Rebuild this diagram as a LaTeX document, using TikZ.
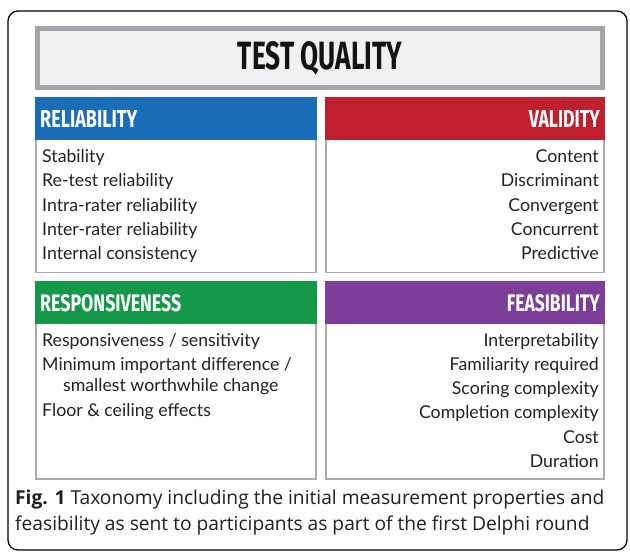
\documentclass[tikz,border=0pt]{standalone}
\usepackage{fontspec}
\usepackage{graphicx}
\setmainfont{Lato}
\newfontfamily\headfont{Fira Sans}
\newfontfamily\capfont{Open Sans}
\definecolor{relblue}{RGB}{26,110,184}
\definecolor{valred}{RGB}{192,31,46}
\definecolor{resgreen}{RGB}{22,152,74}
\definecolor{feapurple}{RGB}{124,62,152}
\definecolor{boxgray}{RGB}{170,170,172}
\definecolor{titlegray}{RGB}{165,165,167}
\definecolor{titlefill}{RGB}{241,241,243}
\definecolor{itemtext}{RGB}{34,34,34}
\tikzset{
  bodybox/.style={draw=boxgray, line width=1.6pt, fill=white},
  item/.style={inner sep=0pt, text=itemtext, font=\fontsize{17.7}{21}\selectfont},
  itemL/.style={item, anchor=base west},
  itemR/.style={item, anchor=base east},
  hdrtext/.style={inner sep=0pt, text=white},
  captext/.style={inner sep=0pt, anchor=base west, text=black!88, font=\capfont\fontsize{19.2}{26}\selectfont}
}
\newcommand{\hdr}[3]{\resizebox{#1pt}{#2pt}{\headfont\bfseries #3}}
\begin{document}
\begin{tikzpicture}[x=1pt,y=-1pt]
\useasboundingbox (0,0) rectangle (630,554);
% outer frame
\draw[line width=1.3pt, rounded corners=10pt] (8,11) rectangle (627,550);
% title
\draw[line width=5pt, draw=titlegray, fill=titlefill] (37.5,28.5) rectangle (602.5,87.5);
\node[inner sep=0pt, anchor=base, text=black!92] (title) at (320,70) {\hdr{164}{28}{TEST QUALITY}};
% bodies
\draw[bodybox] (35.8,139) rectangle (316.2,272.5);
\draw[bodybox] (325.8,139) rectangle (604.2,272.5);
\draw[bodybox] (35.8,323) rectangle (316.2,479);
\draw[bodybox] (325.8,323) rectangle (604.2,479);
% headers
\fill[relblue] (35,97) rectangle (317,139.5);
\fill[valred] (325,97) rectangle (605,139.5);
\fill[resgreen] (35,281) rectangle (317,323.5);
\fill[feapurple] (325,281) rectangle (605,323.5);
\node[hdrtext, anchor=base west] (rel) at (40,127.5) {\hdr{97}{17}{RELIABILITY}};
\node[hdrtext, anchor=base east] (val) at (600,127.5) {\hdr{71}{17}{VALIDITY}};
\node[hdrtext, anchor=base west] (res) at (40,311) {\hdr{141}{17}{RESPONSIVENESS}};
\node[hdrtext, anchor=base east] (fea) at (600,311) {\hdr{93}{17}{FEASIBILITY}};
% reliability items
\node[itemL] (r1) at (42,162.5) {Stability};
\node[itemL] (r2) at (42,186.8) {Re-test reliability};
\node[itemL] (r3) at (42,211.1) {Intra-rater reliability};
\node[itemL] (r4) at (42,235.4) {Inter-rater reliability};
\node[itemL] (r5) at (42,259.7) {Internal consistency};
% validity items
\node[itemR] (v1) at (599,162.5) {Content};
\node[itemR] (v2) at (599,186.8) {Discriminant};
\node[itemR] (v3) at (599,211.1) {Convergent};
\node[itemR] (v4) at (599,235.4) {Concurrent};
\node[itemR] (v5) at (599,259.7) {Predictive};
% responsiveness items
\node[itemL] (s1) at (42,346) {Responsiveness / sensitivity};
\node[itemL] (s2) at (42,370.3) {Minimum important difference /};
\node[itemL] (s3) at (63,391.5) {smallest worthwhile change};
\node[itemL] (s4) at (42,416) {Floor \& ceiling effects};
% feasibility items
\node[itemR] (f1) at (599,346) {Interpretability};
\node[itemR] (f2) at (599,370.3) {Familiarity required};
\node[itemR] (f3) at (599,394.6) {Scoring complexity};
\node[itemR] (f4) at (599,418.9) {Completion complexity};
\node[itemR] (f5) at (599,443.2) {Cost};
\node[itemR] (f6) at (599,467.5) {Duration};
% caption
\node[captext] (cap1) at (15,504) {\textbf{Fig. 1} Taxonomy including the initial measurement properties and};
\node[captext] (cap2) at (15,530) {feasibility as sent to participants as part of the first Delphi round};
\end{tikzpicture}
\end{document}
